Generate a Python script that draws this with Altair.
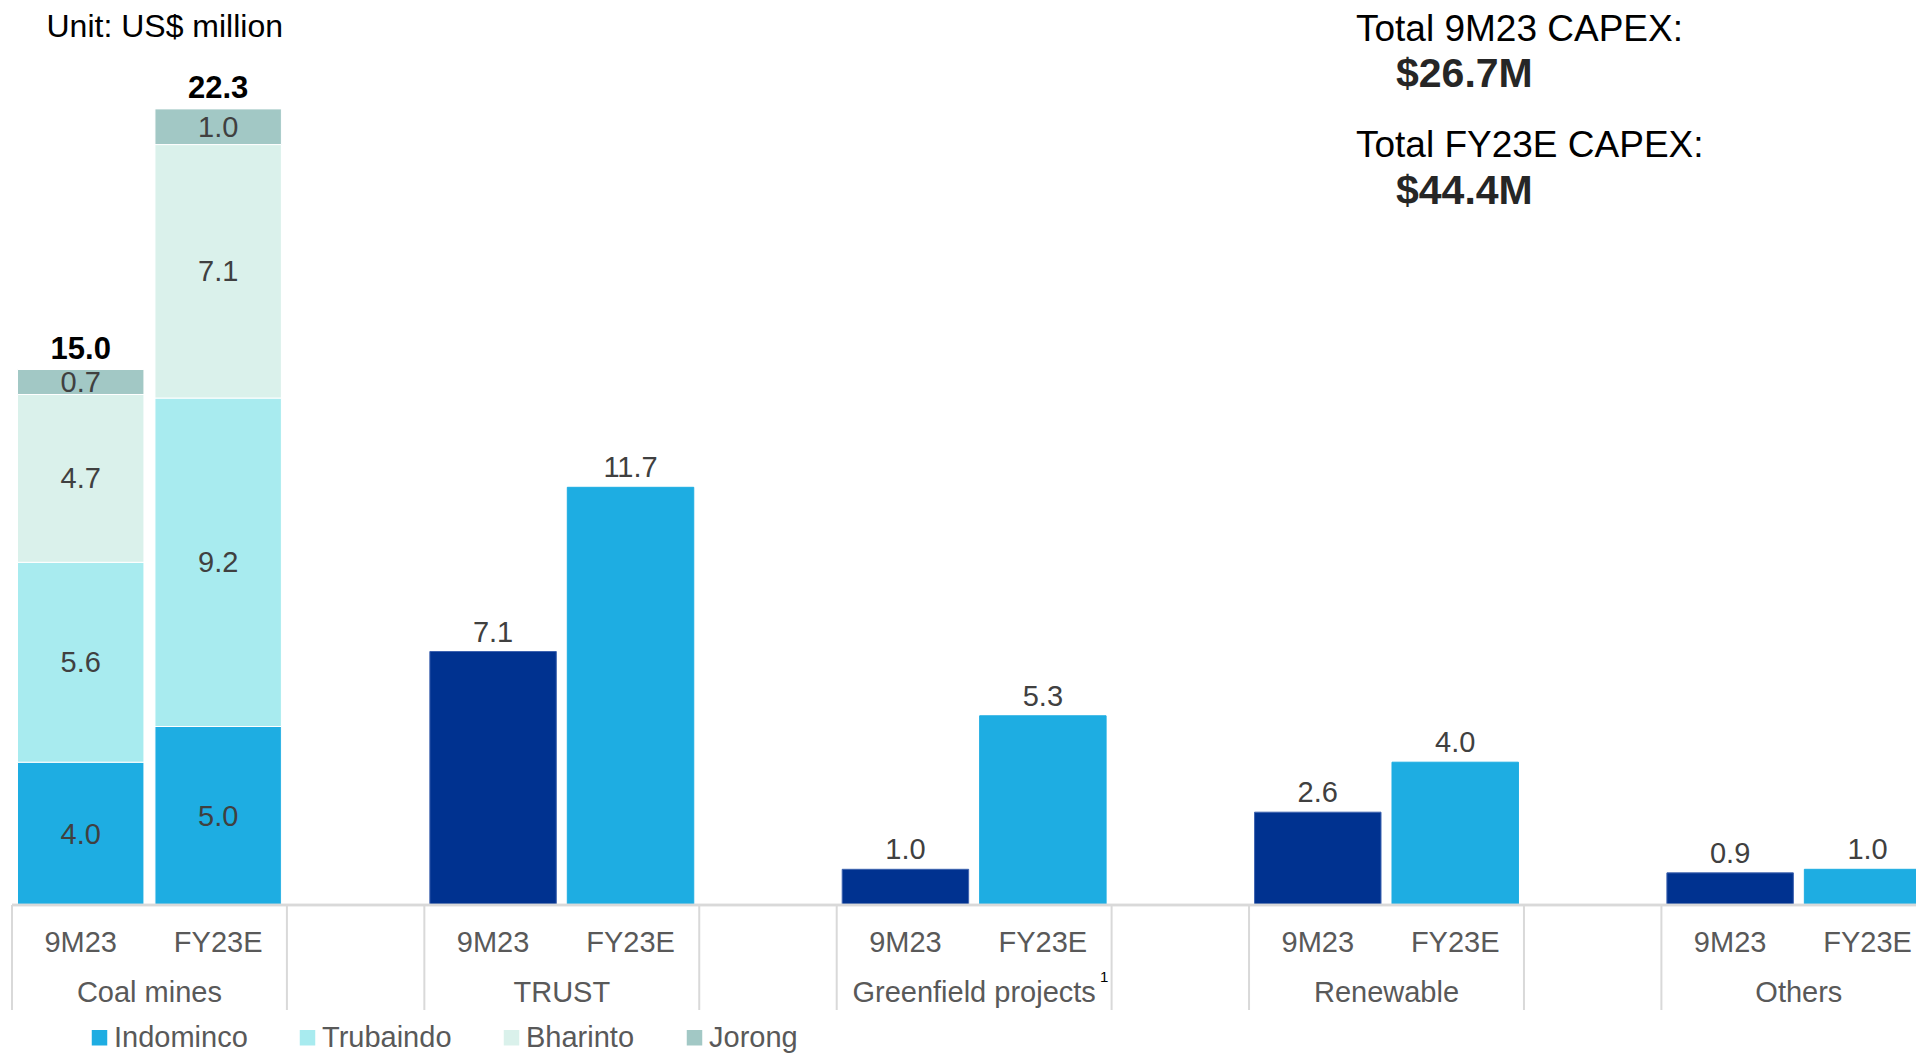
import altair as alt
import pandas as pd

# ---------------- data ----------------
categories = ["Coal mines", "TRUST", "Greenfield projects", "Renewable", "Others"]
periods = ["9M23", "FY23E"]

coal_companies = ["Indominco", "Trubaindo", "Bharinto", "Jorong"]
coal_9m23 = [4.0, 5.6, 4.7, 0.7]
coal_fy23e = [5.0, 9.2, 7.1, 1.0]
coal_totals = [15.0, 22.3]

other_cats = ["TRUST", "Greenfield projects", "Renewable", "Others"]
other_9m23 = [7.1, 1.0, 2.6, 0.9]
other_fy23e = [11.7, 5.3, 4.0, 1.0]

summary_titles = ["Total 9M23 CAPEX:", "Total FY23E CAPEX:"]
summary_values = ["$26.7M", "$44.4M"]
unit_label = "Unit: US$ million"
footnote_mark = "1"

# ---------------- colours / fonts ----------------
FONT = "Liberation Sans"
DARK = "#003290"
LIGHT = "#1EADE2"
series_domain = coal_companies + ["9M23 other", "FY23E other"]
series_range = [LIGHT, "#A8EBEF", "#DAF1EB", "#A2C8C5", DARK, LIGHT]

# ---------------- slots ----------------
slots = []
for c in categories:
    for p in periods + ["gap"]:
        slots.append(f"{c}|{p}")

STEP = 137.45
R = STEP * len(slots)
H = 897
W = 1904
YMAX = H / 35.7
OFF = STEP * 0.08 / 2

xscale = alt.Scale(domain=slots, range=[0, R], paddingInner=0.08, paddingOuter=0.04)
yscale = alt.Scale(domain=[0, YMAX], nice=False, zero=True)

# bar rows
rows = []
for p, vals in zip(periods, [coal_9m23, coal_fy23e]):
    base = 0.0
    for comp, v in zip(coal_companies, vals):
        rows.append(dict(slot=f"Coal mines|{p}", series=comp, y0=base, y1=base + v,
                         mid=base + v / 2, value=v, stroke="#FFFFFF"))
        base += v
for c, a, b in zip(other_cats, other_9m23, other_fy23e):
    rows.append(dict(slot=f"{c}|9M23", series="9M23 other", y0=0, y1=a, mid=a / 2,
                     value=a, stroke="#3D63B0"))
    rows.append(dict(slot=f"{c}|FY23E", series="FY23E other", y0=0, y1=b, mid=b / 2,
                     value=b, stroke=LIGHT))
bars_df = pd.DataFrame(rows)

coal_df = bars_df[bars_df["series"].isin(coal_companies)]
other_df = bars_df[~bars_df["series"].isin(coal_companies)]
tot_df = pd.DataFrame(dict(slot=[f"Coal mines|{p}" for p in periods], total=coal_totals))

sub_df = pd.DataFrame(dict(slot=[f"{c}|{p}" for c in categories for p in periods],
                           label=[p for c in categories for p in periods]))
cat_df = pd.DataFrame(dict(slot=[f"{c}|FY23E" for c in categories], label=categories))
sep_df = pd.DataFrame(dict(slot=[f"{c}|{p}" for c in categories for p in ["9M23", "gap"]]))


def X(bp=0.5):
    return alt.X("slot:N", scale=xscale, axis=None, bandPosition=bp)


def Y(field):
    return alt.Y(field, scale=yscale, axis=None)


bars = alt.Chart(bars_df).mark_bar(strokeWidth=1).encode(
    x=X(),
    y=Y("y0:Q"),
    y2="y1:Q",
    color=alt.Color(
        "series:N",
        scale=alt.Scale(domain=series_domain, range=series_range),
        legend=alt.Legend(
            values=coal_companies, title=None, orient="none", direction="horizontal",
            legendX=73, legendY=1015, symbolType="square", symbolSize=240,
            symbolStrokeWidth=0, labelFont=FONT, labelFontSize=29, labelColor="#595959",
            labelOffset=0, columnPadding=45, padding=0, symbolOpacity=1,
        ),
    ),
    stroke=alt.Stroke("stroke:N", scale=None),
)

seg_text = alt.Chart(coal_df).mark_text(
    font=FONT, fontSize=29, color="#404040", baseline="middle", dy=1
).encode(x=X(), y=Y("mid:Q"), text=alt.Text("value:Q", format=".1f"))

top_text = alt.Chart(other_df).mark_text(
    font=FONT, fontSize=29, color="#404040", baseline="alphabetic", dy=-10
).encode(x=X(), y=Y("y1:Q"), text=alt.Text("value:Q", format=".1f"))

tot_text = alt.Chart(tot_df).mark_text(
    font=FONT, fontSize=31, fontWeight="bold", color="#000000", baseline="alphabetic", dy=-11
).encode(x=X(), y=Y("total:Q"), text=alt.Text("total:Q", format=".1f"))

baseline = alt.Chart(tot_df).mark_rule(color="#D9D9D9", strokeWidth=2.5).encode(
    x=alt.value(0), x2=alt.value(R), y=alt.datum(0, scale=yscale, axis=None)
)

seps = alt.Chart(sep_df).mark_rule(color="#D9D9D9", strokeWidth=2, xOffset=-OFF).encode(
    x=X(0), y=alt.value(H), y2=alt.value(1002)
)

sub_text = alt.Chart(sub_df).mark_text(
    font=FONT, fontSize=29, color="#595959", baseline="alphabetic"
).encode(x=X(), y=alt.value(944), text="label:N")

cat_text = alt.Chart(cat_df).mark_text(
    font=FONT, fontSize=29, color="#595959", baseline="alphabetic", xOffset=-OFF
).encode(x=X(0), y=alt.value(994), text="label:N")

foot = alt.Chart(pd.DataFrame(dict(t=[footnote_mark]))).mark_text(
    font=FONT, fontSize=15, color="#000000", align="left", baseline="alphabetic"
).encode(x=alt.value(1088), y=alt.value(974), text="t:N")

unit = alt.Chart(pd.DataFrame(dict(t=[unit_label]))).mark_text(
    font=FONT, fontSize=32, color="#000000", align="left", baseline="alphabetic"
).encode(x=alt.value(34.5), y=alt.value(29), text="t:N")


def summary_text(txt, x, y, size, bold, color):
    return alt.Chart(pd.DataFrame(dict(t=[txt]))).mark_text(
        font=FONT, fontSize=size, fontWeight="bold" if bold else "normal", color=color,
        align="left", baseline="alphabetic"
    ).encode(x=alt.value(x), y=alt.value(y), text="t:N")


sum_layers = [
    summary_text(summary_titles[0], 1344, 33, 37, False, "#000000"),
    summary_text(summary_values[0], 1384, 79, 41, True, "#262626"),
    summary_text(summary_titles[1], 1344, 149, 37, False, "#000000"),
    summary_text(summary_values[1], 1384, 196, 41, True, "#262626"),
]

chart = alt.layer(
    bars, baseline, seps, seg_text, top_text, tot_text, sub_text, cat_text, foot,
    unit, *sum_layers
).properties(
    width=W, height=H,
    background="#FFFFFF",
    autosize=alt.AutoSizeParams(type="none"),
    padding={"left": 4, "top": 0, "right": 0, "bottom": 153},
).configure_view(stroke=None, strokeWidth=0)

chart.save("out.html", embed_options={"renderer": "svg", "actions": False})
